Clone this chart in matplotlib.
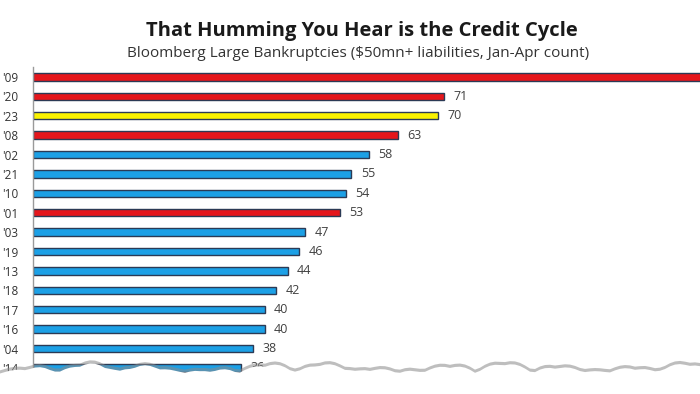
import matplotlib.pyplot as plt
import numpy as np
from matplotlib.patches import Polygon

years = ["'09", "'20", "'23", "'08", "'02", "'21", "'10", "'01",
         "'03", "'19", "'13", "'18", "'17", "'16", "'04", "'14"]
counts = [121, 71, 70, 63, 58, 55, 54, 53, 47, 46, 44, 42, 40, 40, 38, 36]
groups = ["red", "red", "yellow", "red", "blue", "blue", "blue", "red",
          "blue", "blue", "blue", "blue", "blue", "blue", "blue", "blue"]

palette = {"red": "#E5161C", "yellow": "#FAF200", "blue": "#1CA0E6"}

fig = plt.figure(figsize=(7, 3.94), dpi=100)
ax = fig.add_axes([33 / 700, 0.0414, 1 - 33 / 700, 0.788])
xmax = 115.2

y = np.arange(len(years))
ax.barh(y, counts, height=0.38, color=[palette[g] for g in groups],
        edgecolor="#2B3A55", linewidth=1.0)
for yi, c in zip(y, counts):
    if c + 6 < xmax:  # the '09 label runs off the page
        ax.text(c + 1.6, yi, str(c), va="center", ha="left",
                fontsize=9, color="#404040", family="Open Sans")

ax.set_xlim(0, xmax)
ax.set_ylim(len(years) - 0.5, -0.5)
ax.set_yticks(y)
ax.set_yticklabels(years, fontsize=8.5, color="#333333", family="Open Sans")
ax.tick_params(axis="y", length=0, pad=22)
for lbl in ax.get_yticklabels():
    lbl.set_horizontalalignment("left")
ax.set_xticks([])
for s in ["top", "right", "bottom"]:
    ax.spines[s].set_visible(False)
ax.spines["left"].set_color("#9A9A9A")
ax.spines["left"].set_linewidth(1.0)

fig.text(0.517, 0.921, "That Humming You Hear is the Credit Cycle",
         ha="center", va="center", fontsize=14.5, fontweight="bold",
         color="#1A1A1A", family="Open Sans")
fig.text(0.511, 0.865, "Bloomberg Large Bankruptcies ($50mn+ liabilities, Jan-Apr count)",
         ha="center", va="center", fontsize=11, color="#333333", family="Open Sans")

# torn paper edge along the bottom
xs = np.linspace(0, 1, 141)
bumps = np.abs(np.sin(xs * 37.0) * np.sin(xs * 11.0)) * 0.02 + np.abs(np.sin(xs * 83.0)) * 0.006
edge = 0.052 + bumps
pts = np.vstack([np.column_stack([xs, edge]), [[1, 0], [0, 0]]])
shadow = Polygon(pts + [0, 0.008], closed=True, transform=fig.transFigure,
                 facecolor="#8A8A8A", edgecolor="none", zorder=10, alpha=0.55)
paper = Polygon(pts, closed=True, transform=fig.transFigure,
                facecolor="white", edgecolor="none", zorder=11)
fig.add_artist(shadow)
fig.add_artist(paper)

fig.savefig("out.png", dpi=100)
